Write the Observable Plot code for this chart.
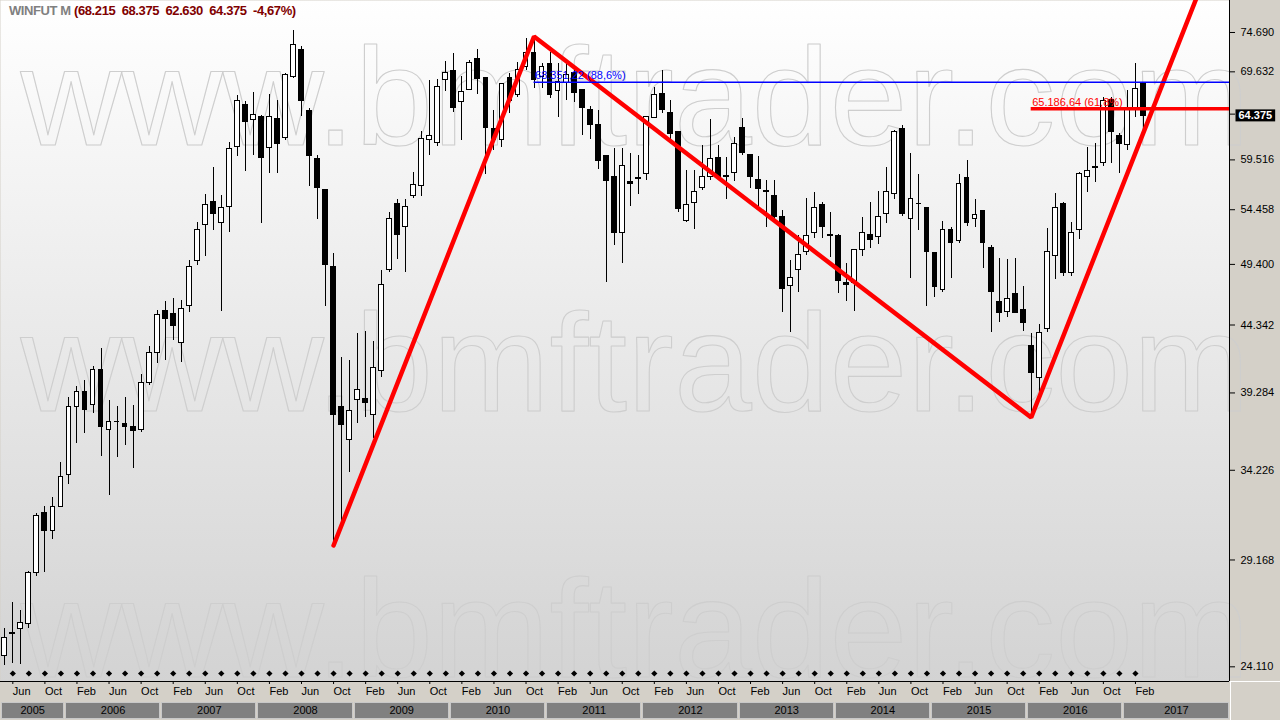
<!DOCTYPE html>
<html>
<head>
<meta charset="utf-8">
<script src="https://cdn.jsdelivr.net/npm/d3@7"></script>
<script src="https://cdn.jsdelivr.net/npm/@observablehq/plot@0.6"></script>
<style>
html, body { margin: 0; padding: 0; background: #d4d0c8; }
#wrap { position: relative; width: 1280px; height: 720px; overflow: hidden; background: #d4d0c8; }
#chart { position: absolute; left: 0; top: 0; }
#years { position: absolute; left: 0; top: 701px; }
#title { position: absolute; left: 9px; top: 3px; font: bold 13px "Liberation Sans", Arial, sans-serif; letter-spacing: -0.4px; white-space: pre; }
#title .sym { color: #808080; }
#title .val { color: #800000; }
#corner { position: absolute; left: 1230px; top: 681px; width: 50px; height: 39px; border-left: 1px solid #fff; border-top: 1px solid #fff; box-sizing: border-box; }
</style>
</head>
<body>
<svg width="0" height="0" style="position:absolute">
  <defs>
    <linearGradient id="plotbg" x1="0" y1="0" x2="0" y2="1">
      <stop offset="0" stop-color="#ffffff"/>
      <stop offset="1" stop-color="#d3d3d3"/>
    </linearGradient>
  </defs>
</svg>
<div id="wrap">
  <div id="chart"></div>
  <div id="years"></div>
  <div id="corner"></div>
  <div id="title"></div>
</div>
<script>
// ---- Data: WINFUT monthly candles, May 2005 .. Mar 2017 ----
const symbol = "WINFUT M";
const firstYear = 2005;
const firstMonth = 4; // May (0-based)
const monthNames = ["Jan","Feb","Mar","Apr","May","Jun","Jul","Aug","Sep","Oct","Nov","Dec"];

const open = [
  24560,25600,25770,26000,28520,31690,30690,32080,
  33910,38280,39320,38480,40960,36800,37330,37140,36940,36800,40020,42220,
  45500,45180,42980,45910,49660,52950,55260,53230,54770,60950,65580,63850,
  64300,60840,64070,61940,69050,72460,64880,59660,56360,49210,38280,36150,
  38760,38830,37800,40820,48870,54970,52760,55850,56860,61610,61390,68570,
  69680,65930,67470,71300,68810,62940,61610,68930,66760,70180,71950,69050,
  70670,67350,68200,69430,67470,65000,63280,59980,57680,52200,57170,57480,
  57990,64180,66990,64760,62500,53330,55070,56560,57680,59770,57820,58190,
  63050,60090,57370,56260,55760,53710,47500,48950,50460,52200,54870,52100,
  52010,47750,47750,50640,52100,51830,54090,55960,62830,53520,55000,54580,
  50370,47160,52480,51550,57580,53520,54290,50910,46160,45420,46900,45580,
  42750,40310,43990,50190,54970,48690,52570,57780,58710,59140,66280,62160,
  61170,65230,68215
];
const high = [
  25810,27040,26660,28550,31690,32080,32600,34700,
  38960,39740,40170,41180,42520,38760,38350,38960,38410,40600,42670,45500,
  46240,46490,46320,49750,53230,55960,58710,55850,61390,66760,66050,67110,
  64400,66870,66160,69430,74960,72850,65230,59980,56460,50370,41840,41620,
  43680,43830,43060,48870,54190,55460,55460,58190,62610,68570,68690,70930,
  71950,69050,71050,72460,68810,65000,68200,69430,70800,73890,74160,70670,
  72080,70670,70670,70300,67470,65460,65000,59980,60730,60730,60200,59980,
  64300,67710,69800,66160,62500,58400,58400,61060,63960,61060,59770,61940,
  64070,60090,59880,57370,57370,54380,49750,52010,55560,56160,55160,54190,
  52100,49480,50730,53710,55160,56260,58710,62720,63280,60200,57990,54580,
  50370,53330,52760,57990,59450,55460,54290,51100,49920,49830,49920,47490,
  43680,44390,52660,56060,55160,53230,58190,60840,61280,66520,66520,62380,
  67350,70670,68375
];
const low = [
  24170,24250,24210,25810,28320,28520,30250,32000,
  33370,35900,36550,37870,35080,32720,35010,35770,34330,36610,39810,41400,
  41620,43130,41480,45340,49300,50100,52480,45420,52290,59880,58300,59980,
  53140,58090,58090,61610,68810,64300,56760,53520,45830,29930,30900,34090,
  37200,37600,36220,40380,48690,49830,48690,55560,55760,59980,60950,67230,
  64760,61610,67350,66870,57990,60520,60840,64650,66520,69800,67590,67590,
  66400,64180,66160,65930,62160,61720,58510,47830,51100,49480,54770,55960,
  57370,64180,64650,61610,54190,53230,52570,56360,57370,57370,55460,57270,
  59980,56560,54670,52760,53420,45340,43750,46990,50190,51740,51740,50010,
  46900,46240,45420,50100,50820,51180,53140,55460,53800,48180,52480,45830,
  46570,46990,48180,51280,52850,52760,49040,43750,44540,44940,45250,43830,
  37600,38960,43750,48090,48350,48350,51640,56160,57170,58820,59140,58090,
  60520,64180,62630
];
const close = [
  25360,25550,26090,28520,31520,30690,32080,33790,
  38280,39320,38140,40960,37000,37330,37300,37000,36740,40020,42220,45100,
  44850,44300,45660,49130,52570,54870,54000,54670,60730,66050,63620,64530,
  59770,64300,61280,69180,72980,66050,59980,56560,49390,37800,37070,38070,
  39520,38620,41100,47660,53520,52100,54770,56960,61820,62160,67830,69430,
  65340,67230,70800,68690,63050,61610,68080,66050,69920,71950,68570,70180,
  66870,68440,69180,67110,65340,63390,59350,57270,52290,58920,57000,57580,
  64300,66760,65000,62380,54480,54870,56160,57680,59560,57680,57780,61280,
  60200,57680,56460,56200,53710,47240,48180,50280,52010,54580,52760,52000,
  47920,47660,50640,52290,51640,53710,56160,62500,54090,55460,54970,50460,
  47410,52480,51280,57060,53140,53900,51280,46990,45340,46410,45340,44540,
  40670,43680,50460,54670,48690,52290,57990,58400,58760,66050,62500,61280,
  65110,67528,64375
];

// price-axis ticks (as labelled on the chart)
const yTicks = [24110, 29168, 34226, 39284, 44342, 49400, 54458, 59516, 64574, 69632, 74690];

// swing pivots of the drawn ABCD pattern (month index from May 2005, price)
const swingMonth = [41, 66, 128, 153];
const swingPrice = [29930, 74160, 37600, 93130];

// Fibonacci levels drawn on the chart
const fibValue = [68351.22, 65186.64];
const fibPct = [88.6, 61.8];
const fibFrom = [66, 128];
const fibColor = ["#0000ff", "#ff0000"];
const fibWidth = [1.5, 3.5];

const watermark = "www.bmftrader.com";

// ---- helpers ----
const loc = d3.formatLocale({decimal: ",", thousands: ".", grouping: [3], currency: ["", ""], minus: "-"});
const fInt = loc.format(",.0f");
const f2 = loc.format(",.2f");
const f1 = loc.format(".1f");
const fPct = loc.format(".2f");

const n = close.length;
const candles = open.map((o, i) => ({i, o, h: high[i], l: low[i], c: close[i]}));
const xDomain = [-0.536, 152.73];
const yDomain = [23487, 79074];
const monthTicks = d3.range(1, n, 4);
const expiries = d3.range(1, n, 2);
const monthOf = i => (firstMonth + i) % 12;
const swings = swingMonth.map((m, k) => ({m, v: swingPrice[k]}));
const fibs = fibValue.map((v, k) => ({v, from: fibFrom[k], color: fibColor[k], width: fibWidth[k],
  label: `${f2(v)} (${f1(fibPct[k])}%)`}));
const font = "'Liberation Sans', Arial, sans-serif";
const lastLabel = fInt(close[n - 1]);

const chart = Plot.plot({
  width: 1280, height: 700,
  marginLeft: 0, marginRight: 51, marginTop: 0, marginBottom: 19,
  style: {background: "transparent", fontFamily: font, fontSize: "11px", color: "#000", overflow: "visible"},
  x: {domain: xDomain},
  y: {type: "log", domain: yDomain},
  marks: [
    Plot.frame({fill: "url(#plotbg)"}),
    ...[144, 410, 676].map(b => Plot.text([watermark], {
      frameAnchor: "top-left", dx: 20, dy: b, lineAnchor: "bottom", textAnchor: "start",
      fontSize: 140, fontFamily: font, fill: "none", stroke: "#cecece", strokeWidth: 1.1
    })),
    Plot.dot(expiries, {x: d => d, frameAnchor: "bottom", dy: -8, symbol: "diamond2", r: 2.8, fill: "#000", stroke: "none"}),
    Plot.ruleX(candles, {x: "i", y1: "l", y2: "h", stroke: "#000", strokeWidth: 1, shapeRendering: "crispEdges"}),
    Plot.rect(candles, {x1: d => d.i - 0.3, x2: d => d.i + 0.3, y1: "o", y2: "c",
      fill: d => d.c >= d.o ? "#fff" : "#000", stroke: "#000", strokeWidth: 1, shapeRendering: "crispEdges"}),
    Plot.line(swings, {x: "m", y: "v", stroke: "#ff0000", strokeWidth: 4.5, clip: true, strokeLinejoin: "miter"}),
    Plot.ruleY(fibs, {y: "v", x1: "from", x2: () => xDomain[1], stroke: "color", strokeWidth: "width"}),
    Plot.text(fibs, {x: "from", y: "v", text: "label", fill: "color", textAnchor: "start", lineAnchor: "bottom", dy: -3, dx: 1, fontSize: 11}),
    Plot.ruleX([xDomain[1]], {stroke: "#000"}),
    Plot.ruleY([yDomain[0]], {stroke: "#000"}),
    Plot.axisX({ticks: monthTicks, tickFormat: i => monthNames[monthOf(i)], tickSize: 3, tickPadding: 3, fontSize: 11, label: null, textAnchor: "start", dx: 0}),
    Plot.axisY({anchor: "right", ticks: yTicks, tickFormat: fInt, tickSize: 5, tickPadding: 6, fontSize: 11, label: null}),
    Plot.text([close[n - 1]], {y: d => d, frameAnchor: "right", dx: 9, text: () => lastLabel, textAnchor: "start",
      fill: "#fff", fontWeight: "bold", fontSize: 11})
  ]
});
document.getElementById("chart").appendChild(chart);

// black box behind the last-price label
{
  const svgns = "http://www.w3.org/2000/svg";
  const t = Array.from(chart.querySelectorAll("text")).find(e => e.textContent === lastLabel);
  if (t) {
    const bb = t.getBBox();
    const r = document.createElementNS(svgns, "rect");
    r.setAttribute("x", bb.x - 3); r.setAttribute("y", bb.y);
    r.setAttribute("width", bb.width + 6); r.setAttribute("height", bb.height);
    r.setAttribute("fill", "#000");
    if (t.getAttribute("transform")) r.setAttribute("transform", t.getAttribute("transform"));
    t.parentNode.insertBefore(r, t);
  }
}

// year strip under the month axis (last year runs to the edge of the frame)
const yearList = d3.range(firstYear, 2018);
const yearBoxes = yearList.map((y, k) => {
  const a = (y - firstYear) * 12 - firstMonth - 0.5;
  const b = k === yearList.length - 1 ? xDomain[1] : a + 12;
  const x1 = Math.max(a, xDomain[0]), x2 = Math.min(b, xDomain[1]);
  return {year: String(y), x1, x2, xm: (x1 + x2) / 2};
});
const years = Plot.plot({
  width: 1280, height: 18,
  marginLeft: 0, marginRight: 51, marginTop: 0, marginBottom: 0,
  style: {background: "transparent", fontFamily: font, fontSize: "11px", color: "#000", overflow: "visible"},
  x: {domain: xDomain, axis: null},
  marks: [
    Plot.rect(yearBoxes, {x1: "x1", x2: "x2", fill: "#808080", stroke: "#c8c8c8", insetLeft: 1, insetRight: 1, insetTop: 1, insetBottom: 1, shapeRendering: "crispEdges"}),
    Plot.text(yearBoxes, {x: "xm", text: "year", fill: "#000", fontSize: 11})
  ]
});
document.getElementById("years").appendChild(years);

// title line
const pct = (close[n - 1] / close[n - 2] - 1) * 100;
document.getElementById("title").innerHTML =
  `<span class="sym">${symbol} </span><span class="val">(${fInt(open[n-1])}  ${fInt(high[n-1])}  ${fInt(low[n-1])}  ${fInt(close[n-1])}  ${fPct(pct)}%)</span>`;
</script>
</body>
</html>
